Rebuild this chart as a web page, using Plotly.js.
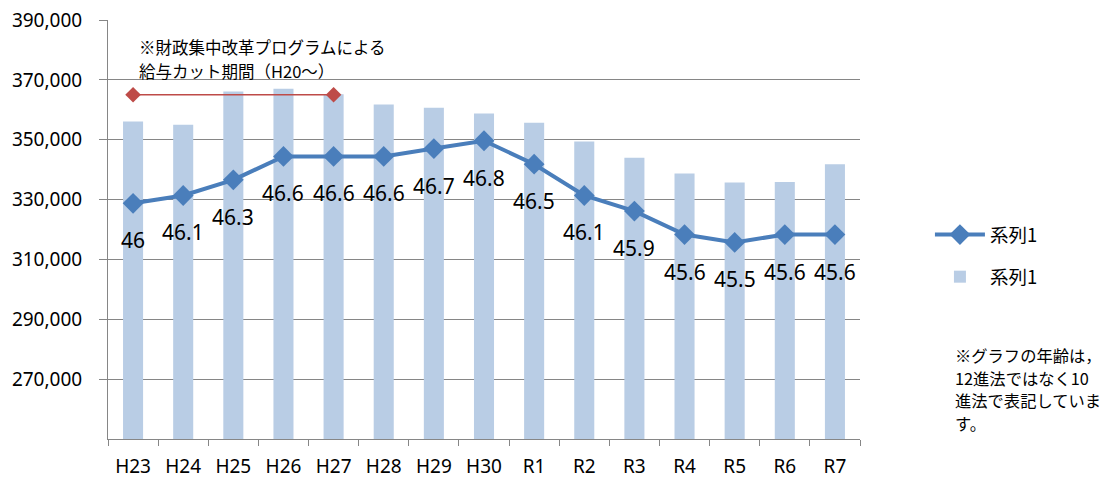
<!DOCTYPE html>
<html>
<head>
<meta charset="utf-8">
<script src="https://cdn.plot.ly/plotly-3.0.1.min.js"></script>
<style>html,body{margin:0;padding:0;background:#fff;}#chart{width:1108px;height:479px;}</style>
</head>
<body>
<div id="chart"></div>
<script>
const categories = ["H23","H24","H25","H26","H27","H28","H29","H30","R1","R2","R3","R4","R5","R6","R7"];
const salary = [356100, 355000, 366100, 367000, 365200, 361800, 360700, 358800, 355700, 349400, 344000, 338700, 335700, 335900, 341800];
const age = [46, 46.1, 46.3, 46.6, 46.6, 46.6, 46.7, 46.8, 46.5, 46.1, 45.9, 45.6, 45.5, 45.6, 45.6];
const cutPeriodX = ["H23", "H27"];
const cutPeriodY = [365000, 365000];
const yTicks = [270000, 290000, 310000, 330000, 350000, 370000, 390000];
const seriesName = "系列1";
const noteTopLines = ["※財政集中改革プログラムによる", "給与カット期間（H20～）"];
const noteRightLines = ["※グラフの年齢は，", "12進法ではなく10", "進法で表記していま", "す。"];

const FONT = "'Noto Sans', 'Noto Sans CJK JP', sans-serif";
const JFONT = "'Noto Sans CJK JP', 'Noto Sans', sans-serif";

const traces = [
  {
    type: "scatter", mode: "lines+markers", name: seriesName,
    x: categories, y: age, yaxis: "y2",
    line: {color: "#4a7ebb", width: 4},
    marker: {symbol: "diamond", size: 16, color: "#4a7ebb"},
    legendgroup: "a"
  },
  {
    type: "bar", name: seriesName,
    x: categories, y: salary,
    marker: {color: "#b9cde5"},
    legendgroup: "b"
  },
  {
    type: "scatter", mode: "lines+markers",
    x: cutPeriodX, y: cutPeriodY,
    line: {color: "#be4b48", width: 1.5},
    marker: {symbol: "diamond", size: 12, color: "#be4b48"},
    showlegend: false
  }
];

const annotations = categories.map((c, i) => ({
  x: c, y: age[i], xref: "x", yref: "y2",
  text: String(age[i]), showarrow: false,
  yshift: -37, font: {family: FONT, size: 21, color: "#000"}
}));
noteTopLines.forEach((t, i) => {
  annotations.push({
    xref: "paper", yref: "paper", x: 0.0386, y: (439 - (47.5 + i * 23.5)) / 419,
    xanchor: "left", yanchor: "middle", align: "left",
    text: t, showarrow: false,
    font: {family: JFONT, size: 16.5, color: "#000"}
  });
});
noteRightLines.forEach((t, i) => {
  annotations.push({
    xref: "paper", yref: "paper", x: 1.1237, y: (439 - (355 + i * 22.6)) / 419,
    xanchor: "left", yanchor: "middle", align: "left",
    text: t, showarrow: false,
    font: {family: JFONT, size: 16.3, color: "#000"}
  });
});

const layout = {
  width: 1108, height: 479,
  margin: {l: 108, r: 248, t: 20, b: 40, pad: 0},
  paper_bgcolor: "#fff", plot_bgcolor: "#fff",
  font: {family: FONT, color: "#000"},
  bargap: 0.6,
  showlegend: true,
  legend: {
    x: 1.093, y: 0.532, xanchor: "left", yanchor: "top",
    font: {family: JFONT, size: 18.5, color: "#000"},
    traceorder: "grouped", tracegroupgap: 15, itemwidth: 50,
    bgcolor: "rgba(0,0,0,0)"
  },
  xaxis: {
    type: "category", range: [-0.5, 14.5], autorange: false,
    showline: true, linecolor: "#868686", linewidth: 1,
    ticks: "outside", tickson: "boundaries", ticklen: 6, tickcolor: "#868686",
    tickfont: {family: FONT, size: 19, color: "#000"},
    ticklabelstandoff: 10,
    showgrid: false, zeroline: false, fixedrange: true
  },
  yaxis: {
    range: [250000, 390000], autorange: false,
    tickvals: yTicks, tickformat: ",d",
    showline: true, linecolor: "#868686", linewidth: 1,
    ticks: "outside", ticklen: 8, tickcolor: "#868686",
    showgrid: true, gridcolor: "#868686", gridwidth: 1,
    tickfont: {family: FONT, size: 19, color: "#000"},
    ticklabelstandoff: 13,
    zeroline: false, fixedrange: true
  },
  yaxis2: {
    overlaying: "y", side: "right",
    range: [42.986, 48.344], autorange: false,
    visible: false, showgrid: false, zeroline: false, fixedrange: true
  },
  annotations: annotations
};

Plotly.newPlot("chart", traces, layout, {displayModeBar: false, staticPlot: true});
</script>
</body>
</html>
